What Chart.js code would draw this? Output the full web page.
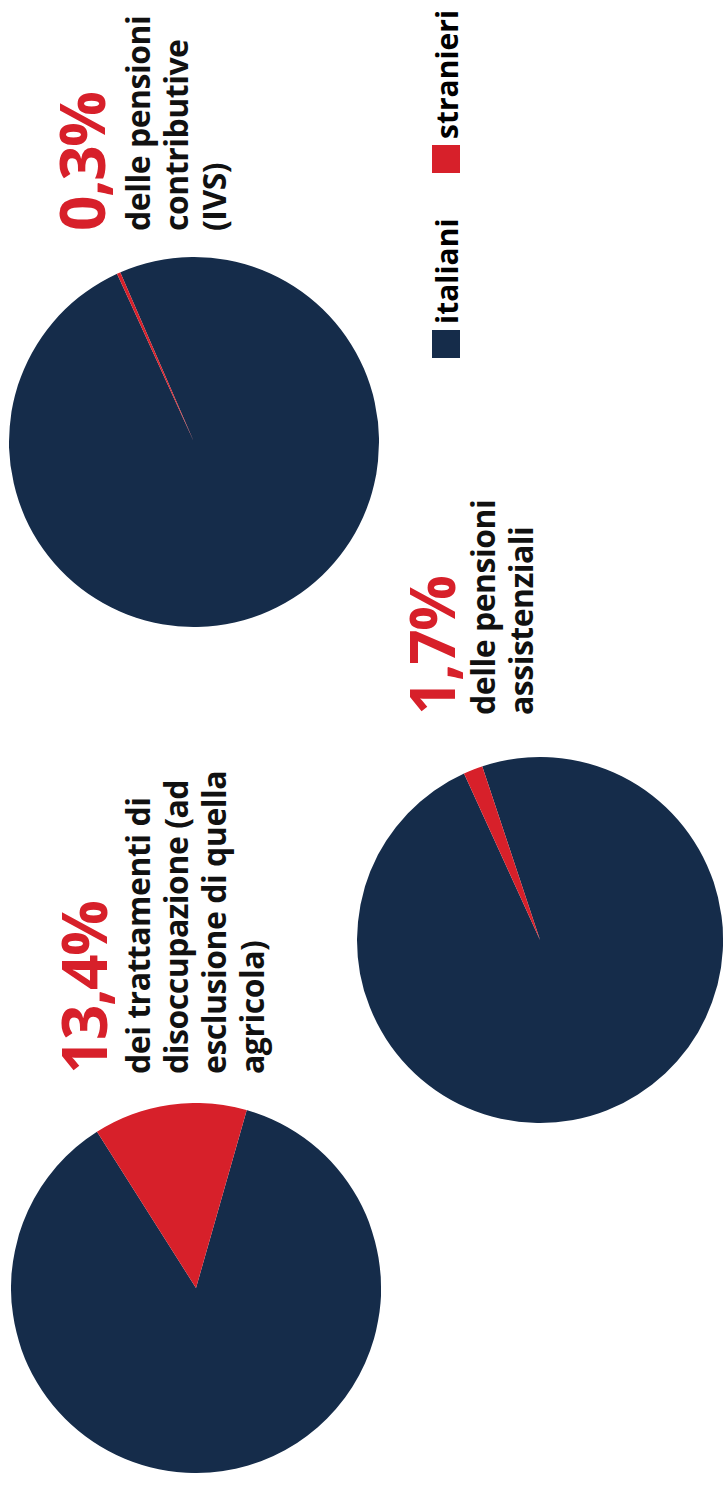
<!DOCTYPE html>
<html>
<head>
<meta charset="utf-8">
<script src="https://cdn.jsdelivr.net/npm/chart.js"></script>
<style>
  html, body { margin: 0; padding: 0; background: #fff; }
  body { width: 723px; height: 1485px; overflow: hidden; position: relative; }
  /* tutto il grafico è ruotato di 90° in senso antiorario */
  #stage {
    position: absolute; left: 0; top: 0;
    width: 1485px; height: 723px;
    transform-origin: 0 0;
    transform: translate(0, 1485px) rotate(-90deg);
    font-family: "Open Sans", sans-serif;
    font-weight: 700;
  }
  .pie { position: absolute; }
  .num { position: absolute; color: #d7202a; font-size: 62px; line-height: 62px; letter-spacing: -1.5px; white-space: nowrap; }
  .txt { position: absolute; color: #111; font-size: 32px; line-height: 38px; letter-spacing: -0.5px; white-space: nowrap; }
  #legenda { position: absolute; left: 1127px; top: 430px; font-size: 30px; line-height: 34px; }
  #legenda span.item { position: absolute; white-space: nowrap; }
  #legenda i { display: inline-block; width: 28px; height: 28px; vertical-align: -2px; margin-right: 6px; }
</style>
</head>
<body>
<div id="stage">
  <div id="legenda"></div>
</div>
<script>
// --- DATI ---
const categorie = ['italiani', 'stranieri'];
const colori = ['#152c4a', '#d7202a'];
const quoteItaliani = [86.6, 98.3, 99.7];
const quoteStranieri = [13.4, 1.7, 0.3];
const titoli = ['13,4%', '1,7%', '0,3%'];
const descrizioni = [
    ['dei trattamenti di', 'disoccupazione (ad', 'esclusione di quella', 'agricola)'],
    ['delle pensioni', 'assistenziali'],
    ['delle pensioni', 'contributive', '(IVS)']
];

// posizioni nel riquadro non ruotato (1485 x 723)
const torte = [
    { left: 12, top: 11, size: 370, rotation: 105.9 },
    { left: 362, top: 357, size: 366, rotation: 71.6 },
    { left: 858, top: 9, size: 370, rotation: 66.5 }
];
// x iniziale, linea di base del numero, linea di base della prima riga
const etichette = [
    { x: 411, numBase: 107, txtBase: 150 },
    { x: 770, numBase: 455, txtBase: 495 },
    { x: 1254, numBase: 105, txtBase: 150 }
];
const legendaX = [0, 185];

const stage = document.getElementById('stage');

torte.forEach((t, i) => {
    const canvas = document.createElement('canvas');
    canvas.className = 'pie';
    canvas.width = t.size;
    canvas.height = t.size;
    canvas.style.left = t.left + 'px';
    canvas.style.top = t.top + 'px';
    stage.appendChild(canvas);

    new Chart(canvas.getContext('2d'), {
        type: 'pie',
        data: {
            labels: categorie,
            datasets: [{
                data: [quoteItaliani[i], quoteStranieri[i]],
                backgroundColor: colori,
                borderWidth: 0
            }]
        },
        options: {
            responsive: false,
            animation: false,
            rotation: t.rotation,
            layout: { padding: 0 },
            plugins: {
                legend: { display: false },
                tooltip: { enabled: false }
            }
        }
    });

    const e = etichette[i];
    const num = document.createElement('div');
    num.className = 'num';
    num.style.left = e.x + 'px';
    num.style.top = (e.numBase - 55) + 'px';
    num.textContent = titoli[i];
    stage.appendChild(num);

    const txt = document.createElement('div');
    txt.className = 'txt';
    txt.style.left = e.x + 'px';
    txt.style.top = (e.txtBase - 31) + 'px';
    txt.innerHTML = descrizioni[i].join('<br>');
    stage.appendChild(txt);
});

// legenda
const legenda = document.getElementById('legenda');
categorie.forEach((c, i) => {
    const item = document.createElement('span');
    item.className = 'item';
    item.style.left = legendaX[i] + 'px';
    item.innerHTML = `<i style="background:${colori[i]}"></i>${c}`;
    legenda.appendChild(item);
});
</script>
</body>
</html>
